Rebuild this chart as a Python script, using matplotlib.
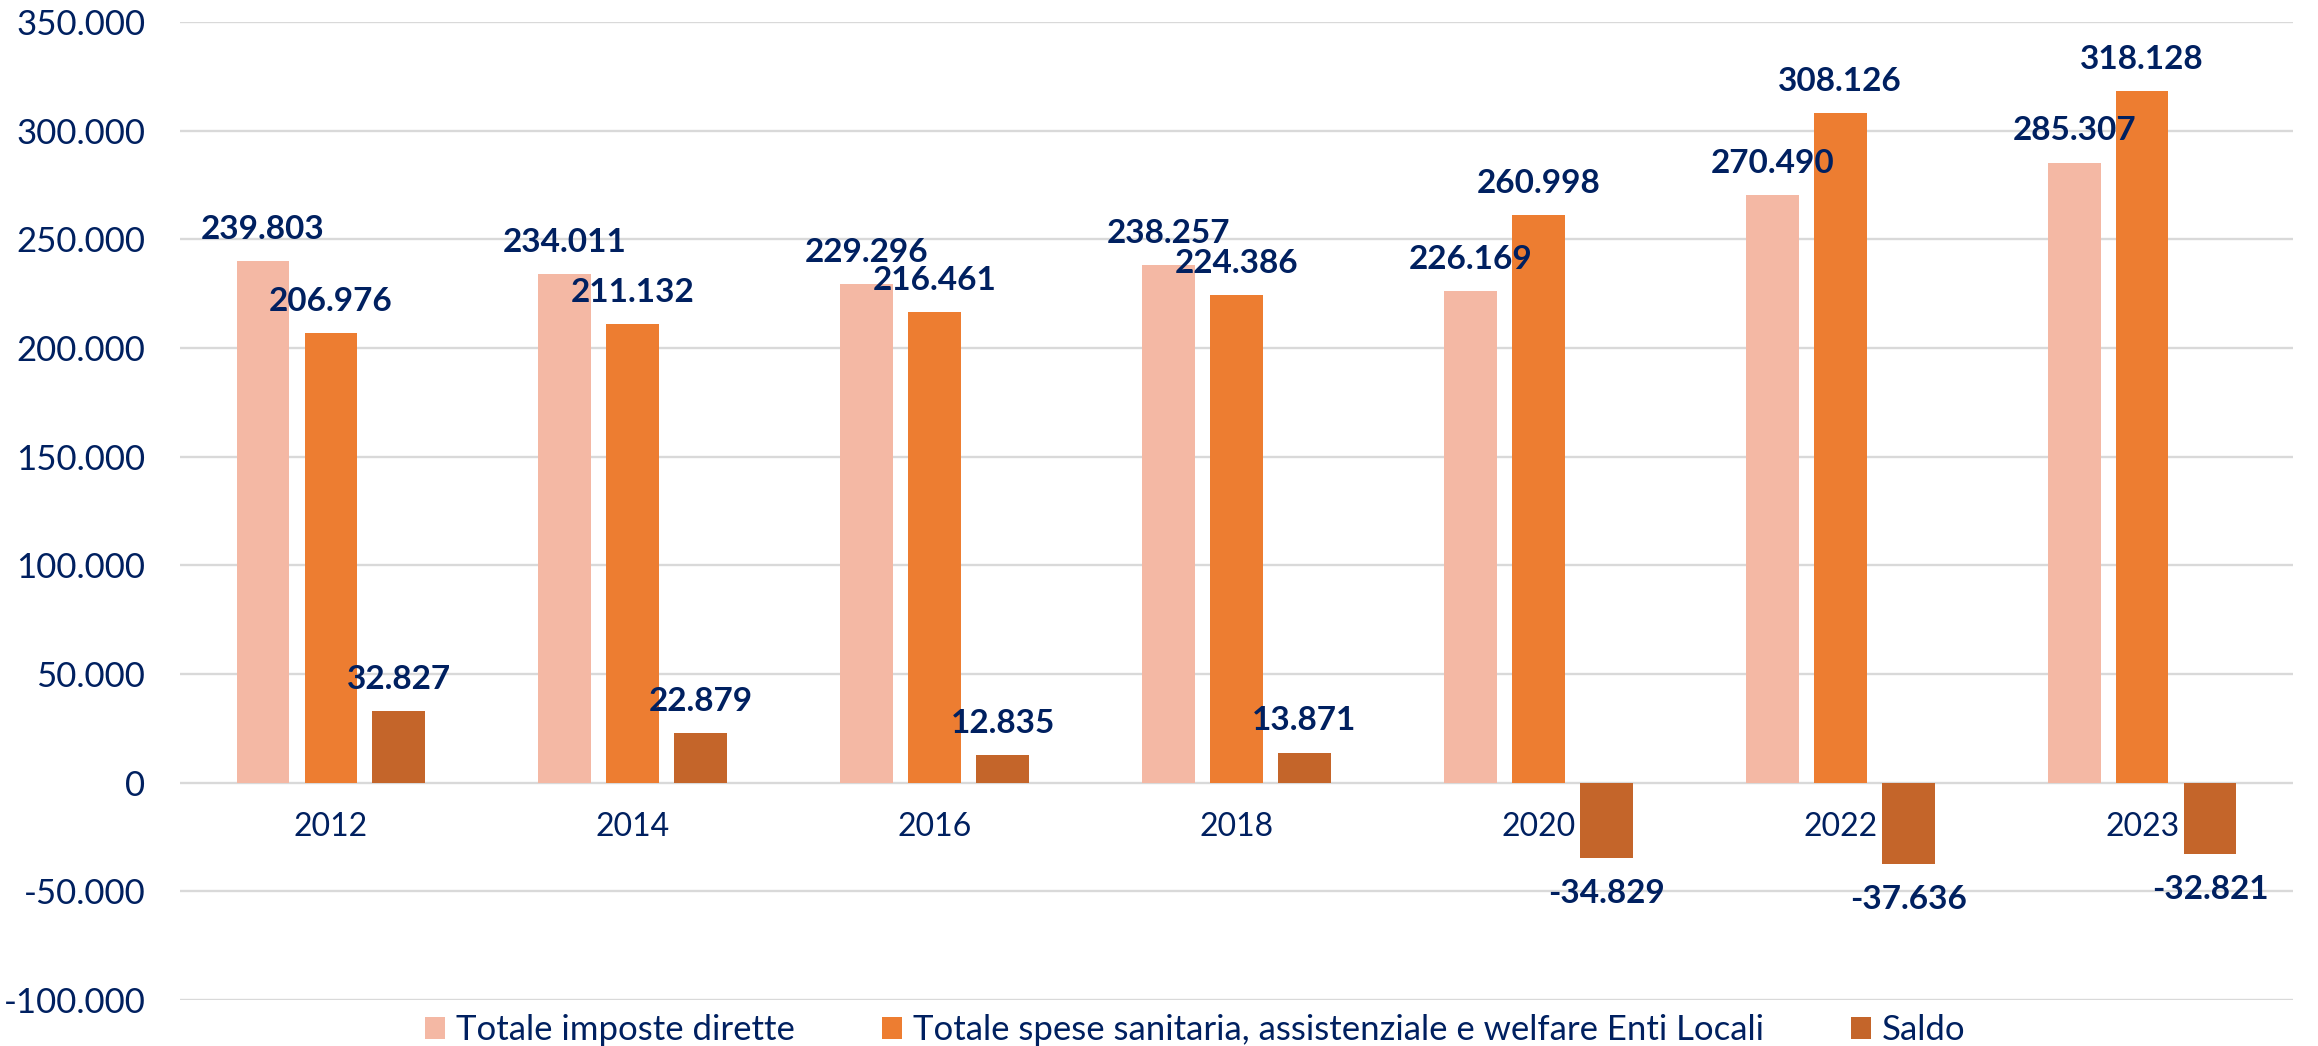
import matplotlib
matplotlib.use("Agg")
import matplotlib.pyplot as plt
import numpy as np

plt.rcParams['font.family'] = ['Lato', 'DejaVu Sans']

anni = ['2012', '2014', '2016', '2018', '2020', '2022', '2023']
imposte = [239803, 234011, 229296, 238257, 226169, 270490, 285307]
spese = [206976, 211132, 216461, 224386, 260998, 308126, 318128]
saldo = [32827, 22879, 12835, 13871, -34829, -37636, -32821]

nomi = ['Totale imposte dirette',
        'Totale spese sanitaria, assistenziale e welfare Enti Locali',
        'Saldo']
colori = ['#F4B8A4', '#ED7D31', '#C4652A']
blu = '#002060'


def fmt(v):
    return f"{v:,}".replace(',', '.')


fig = plt.figure(figsize=(23.18, 10.46), dpi=100)
ax = fig.add_axes([180 / 2318, 46 / 1046, (2293 - 180) / 2318, 978 / 1046])

x = np.arange(len(anni))
w = 0.175
step = 0.225

for i, (serie, col, nome) in enumerate(zip([imposte, spese, saldo], colori, nomi)):
    pos = x + (i - 1) * step
    ax.bar(pos, serie, width=w, color=col, label=nome, zorder=3)
    for px, v in zip(pos, serie):
        if v >= 0:
            ax.annotate(fmt(v), (px, v), xytext=(0, 16), textcoords='offset points',
                        ha='center', va='baseline', fontsize=24, fontweight='bold',
                        color=blu, zorder=4)
        else:
            ax.annotate(fmt(v), (px, v), xytext=(0, -15), textcoords='offset points',
                        ha='center', va='top', fontsize=24, fontweight='bold',
                        color=blu, zorder=4)

ax.set_xlim(-0.5, len(anni) - 0.5)
ax.set_ylim(-100000, 350000)
yt = np.arange(-100000, 350001, 50000)
ax.set_yticks(yt)
ax.set_yticklabels([fmt(int(t)) for t in yt])
ax.set_xticks([])
ax.tick_params(axis='y', length=0, pad=25, labelsize=25, labelcolor=blu)
ax.spines[:].set_visible(False)
ax.grid(axis='y', color='#D9D9D9', linewidth=1.7, zorder=0)
ax.set_axisbelow(True)

# anni subito sotto la linea dello zero
for xi, a in zip(x, anni):
    ax.annotate(a, (xi, 0), xytext=(0, -21), textcoords='offset points',
                ha='center', va='top', fontsize=23, color=blu)

fig.legend(loc='center', bbox_to_anchor=(1195 / 2318, 16 / 1046), ncol=3,
           frameon=False, fontsize=25, handlelength=0.6, handleheight=0.6,
           handletextpad=0.3, columnspacing=2.5, labelcolor=blu)

fig.savefig('out.png', dpi=100)
